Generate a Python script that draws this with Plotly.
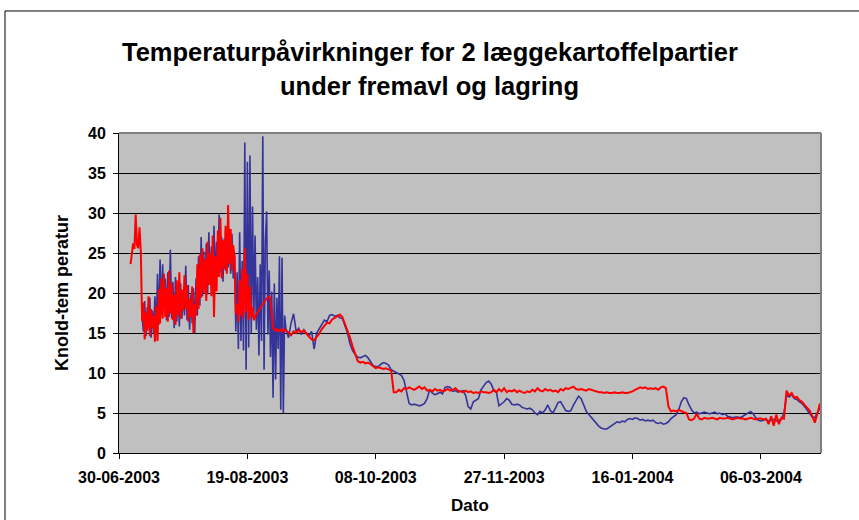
import pandas as pd
import plotly.graph_objects as go

# ---------------- data ----------------
# Field period: readings every 12 hours
red_field_start = "2003-07-04 12:00"
red_field = [23.6, 24.8, 26.2, 25.5, 29.8, 26.0, 25.6, 28.2, 25.2, 16.5,
             18.8, 14.2, 17.6, 15.3, 19.6, 14.6, 18.0, 15.6, 17.2, 13.9,
             18.4, 14.0, 20.5, 16.2, 21.8, 16.8, 22.4, 17.0, 20.6, 16.4,
             22.8, 17.4, 21.2, 16.6, 19.8, 16.0, 21.6, 17.2, 22.6, 16.8,
             20.4, 17.8, 22.2, 18.0, 21.0, 16.4, 19.2, 17.0, 20.8, 15.0,
             18.6, 17.2, 23.6, 18.0, 24.8, 19.4, 25.6, 20.0, 24.2, 19.0,
             26.4, 21.0, 25.0, 19.6, 27.2, 17.0, 24.6, 20.2, 27.8, 22.0,
             29.4, 21.8, 26.6, 23.0, 28.4, 22.4, 31.0, 23.6, 28.0, 22.8,
             26.0, 24.4, 17.4, 18.6, 16.4, 21.6, 17.2, 23.0, 16.8, 25.6,
             17.6, 22.4, 16.6, 20.8, 17.0, 18.2, 16.6, 17.0, 17.4, 17.6,
             17.8, 18.2, 18.4, 18.6, 18.9, 19.1, 19.3, 19.5, 19.6, 19.2,
             17.0, 15.6, 15.4, 15.3, 15.5, 15.2, 15.4, 15.3, 15.5, 15.2,
             15.4]

blue_field_start = "2003-07-09 00:00"
blue_field = [17.0, 15.2, 19.0, 14.6, 18.2, 15.8, 19.4, 14.4, 17.8, 15.0,
              19.6, 14.8, 22.4, 16.0, 24.2, 17.4, 23.6, 18.0, 21.8, 16.6,
              22.6, 17.0, 25.4, 16.8, 21.4, 15.6, 22.0, 16.4, 20.6, 15.8,
              21.2, 16.8, 20.4, 17.2, 23.4, 16.6, 21.0, 15.4, 19.8, 16.2,
              20.6, 15.0, 21.8, 17.2, 24.6, 18.4, 27.0, 19.6, 25.2, 20.4,
              26.2, 19.8, 27.6, 21.0, 25.8, 20.2, 28.4, 21.6, 26.4, 22.0,
              29.8, 22.6, 27.0, 21.4, 26.8, 22.8, 28.0, 23.2, 26.2, 22.4,
              27.4, 21.8, 25.0, 15.2, 22.6, 13.0, 27.6, 14.0, 24.0, 12.8,
              38.8, 10.4, 36.4, 13.2, 37.2, 15.0, 30.8, 16.6, 27.2, 15.4,
              22.0, 12.2, 23.6, 14.0, 39.6, 10.4, 26.4, 30.2, 14.8, 22.8,
              12.0, 20.2, 6.9, 21.2, 9.2, 19.4, 13.0, 24.6, 5.4, 24.4,
              5.0, 17.2]

# Storage period: daily readings
store_start = "2003-09-03"
red_store = [15.3, 15.1, 14.7, 15.2, 15.0, 15.4, 15.1, 15.3, 14.9, 14.6,
             14.2, 14.1, 14.5, 14.9, 15.5, 15.9, 16.3, 16.2, 16.7, 16.9,
             17.1, 17.3, 17.0, 16.2, 15.3, 14.4, 13.3, 12.4, 11.5, 11.3,
             11.4, 11.2, 11.3, 11.1, 10.8, 10.6, 10.7, 10.6, 10.5, 10.6,
             10.4, 10.3, 7.6, 7.6, 7.9, 7.7, 8.1, 8.0, 8.2, 8.0,
             7.9, 8.1, 8.3, 8.0, 8.2, 7.8, 7.9, 7.7, 8.0, 7.8,
             7.9, 7.7, 7.8, 8.0, 7.8, 7.9, 8.1, 7.8, 7.7, 7.6,
             7.8, 7.6, 7.7, 7.5, 7.6, 7.5, 7.7, 7.6, 7.6, 7.5,
             7.6, 7.9, 7.6, 8.0, 7.7, 8.1, 7.6, 7.8, 7.7, 7.9,
             7.6, 7.8, 7.6, 7.5, 7.7, 7.6, 7.9, 7.7, 8.1, 7.8,
             7.7, 8.0, 7.8, 7.9, 7.7, 7.8, 7.6, 8.0, 7.8, 8.1,
             8.0, 8.2, 8.3, 8.0, 7.9, 8.0, 7.9, 7.8, 8.0, 7.9,
             7.8, 7.7, 7.6, 7.6, 7.5, 7.6, 7.5, 7.5, 7.6, 7.5,
             7.5, 7.6, 7.5, 7.5, 7.6, 7.7, 7.9, 8.1, 8.2, 8.1,
             8.2, 8.0, 8.1, 8.0, 8.1, 7.9, 8.2, 8.3, 8.1, 5.8,
             5.2, 5.3, 5.2, 5.4, 5.2, 5.1, 5.0, 4.2, 4.1, 4.3,
             4.9, 4.3, 4.2, 4.4, 4.3, 4.3, 4.4, 4.3, 4.2, 4.4,
             4.3, 4.3, 4.4, 4.3, 4.2, 4.3, 4.4, 4.3, 4.3, 4.2,
             4.3, 4.4, 4.3, 4.2, 4.3, 4.3, 4.2, 4.3, 3.6, 4.6,
             3.4, 4.8, 3.6, 4.4, 4.3, 7.8, 7.2, 7.5, 6.9, 7.0,
             6.6, 6.4, 6.0, 5.7, 5.3, 4.6, 3.8, 4.9, 6.2]

blue_store = [15.6, 14.4, 16.2, 17.4, 15.2, 15.6, 14.8, 15.4, 15.0, 14.6,
              15.2, 13.0, 15.0, 15.6, 16.0, 16.6, 16.4, 17.2, 17.3, 17.1,
              17.2, 16.9, 16.8, 15.8, 15.0, 13.6, 12.8, 12.3, 12.0, 11.9,
              12.1, 12.2, 11.9, 11.4, 10.9, 10.8, 10.8, 11.1, 11.3, 11.2,
              11.0, 10.4, 10.2, 10.0, 9.8, 9.7, 9.1, 7.4, 6.2, 6.0,
              6.1, 6.0, 5.9, 6.0, 6.2, 6.8, 7.9, 7.5, 7.3, 7.4,
              7.6, 7.4, 8.2, 8.3, 8.2, 7.7, 7.8, 7.6, 7.7, 7.8,
              7.2, 5.8, 5.5, 6.4, 6.6, 6.8, 7.9, 8.3, 8.8, 9.0,
              8.6, 7.8, 7.6, 5.9, 6.1, 6.4, 6.8, 6.6, 6.1, 6.0,
              6.1, 6.0, 5.7, 5.6, 5.5, 5.6, 5.4, 5.0, 4.8, 5.2,
              5.0, 5.4, 6.0, 5.3, 5.0, 5.6, 6.3, 6.4, 5.8, 5.3,
              5.2, 5.3, 6.0, 6.6, 7.1, 6.8, 6.0, 5.2, 4.8, 4.4,
              4.0, 3.6, 3.3, 3.1, 3.0, 3.0, 3.2, 3.4, 3.7, 3.9,
              3.8, 4.0, 3.9, 4.2, 4.3, 4.2, 4.4, 4.3, 4.1, 4.2,
              4.0, 4.1, 4.0, 4.1, 3.8, 3.7, 3.8, 3.6, 3.7, 3.9,
              4.3, 4.6, 4.8, 5.4, 6.4, 6.9, 6.8, 6.0, 5.4, 5.0,
              5.1, 4.9, 5.0, 5.1, 5.0, 4.9, 5.0, 5.1, 4.9, 5.0,
              4.8, 4.9, 4.6, 4.5, 4.4, 4.5, 4.5, 4.4, 4.6, 4.8,
              5.0, 5.2, 4.9, 4.4, 4.1, 4.0, 4.1, 4.2, 4.0, 4.1,
              4.2, 4.0, 4.1, 4.2, 5.0, 7.2, 7.0, 7.3, 6.8, 6.7,
              6.4, 6.2, 5.8, 5.4, 5.0, 4.5, 4.4, 5.0, 5.6]

tick_dates = ["2003-06-30", "2003-08-19", "2003-10-08",
              "2003-11-27", "2004-01-16", "2004-03-06"]
tick_labels = ["30-06-2003", "19-08-2003", "08-10-2003",
               "27-11-2003", "16-01-2004", "06-03-2004"]

title_lines = ["Temperaturpåvirkninger for 2 læggekartoffelpartier",
               "under fremavl og lagring"]
x_title = "Dato"
y_title = "Knold-tem peratur"

# ---------------- build series ----------------
def series(field_start, field_vals, store_vals):
    t1 = pd.date_range(field_start, periods=len(field_vals), freq="12h")
    t2 = pd.date_range(store_start, periods=len(store_vals), freq="D")
    return list(t1) + list(t2), list(field_vals) + list(store_vals)

bx, by = series(blue_field_start, blue_field, blue_store)
rx, ry = series(red_field_start, red_field, red_store)

FONT = "Liberation Sans, Arial, sans-serif"

fig = go.Figure()
fig.add_trace(go.Scatter(x=bx, y=by, mode="lines",
                         line=dict(color="#333399", width=1.6)))
fig.add_trace(go.Scatter(x=rx, y=ry, mode="lines",
                         line=dict(color="#FF0000", width=2)))

fig.update_layout(
    width=859, height=520,
    margin=dict(l=119, r=38, t=133, b=67),
    paper_bgcolor="white",
    plot_bgcolor="#C0C0C0",
    showlegend=False,
    font=dict(family=FONT, color="black"),
)
fig.update_xaxes(
    type="date",
    range=["2003-06-30", "2004-03-29 10:00"],
    tickvals=tick_dates, ticktext=tick_labels,
    ticks="outside", ticklen=5, tickcolor="black", tickwidth=1,
    showgrid=False, zeroline=False,
    showline=True, linecolor="black", linewidth=1,
    tickfont=dict(family=FONT, size=16, weight="bold", color="black"),
    ticklabelstandoff=5,
)
fig.update_yaxes(
    range=[0, 40], tick0=0, dtick=5,
    ticks="outside", ticklen=5, tickcolor="black", tickwidth=1,
    showgrid=True, gridcolor="black", gridwidth=1,
    zeroline=False,
    showline=True, linecolor="black", linewidth=1,
    tickfont=dict(family=FONT, size=16, weight="bold", color="black"),
    ticklabelstandoff=4,
)

# plot-area frame (top / right in grey)
fig.add_shape(type="line", xref="paper", yref="paper", x0=0, x1=1, y0=1, y1=1,
              line=dict(color="#808080", width=2), layer="above")
fig.add_shape(type="line", xref="paper", yref="paper", x0=1, x1=1, y0=0, y1=1,
              line=dict(color="#808080", width=2), layer="above")
# outer chart frame (top and left)
fig.add_shape(type="line", xref="paper", yref="paper",
              x0=-0.1624, x1=1.1, y0=1.3813, y1=1.3813,
              line=dict(color="black", width=1), layer="above")
fig.add_shape(type="line", xref="paper", yref="paper",
              x0=-0.1624, x1=-0.1624, y0=-0.3, y1=1.3813,
              line=dict(color="black", width=1), layer="above")

# titles
tx = (429.5 - 119) / 702
fig.add_annotation(text=title_lines[0], xref="paper", yref="paper",
                   x=tx, y=(453 - 52) / 320, xanchor="center", yanchor="middle",
                   showarrow=False,
                   font=dict(family=FONT, size=25.5, weight="bold", color="black"))
fig.add_annotation(text=title_lines[1], xref="paper", yref="paper",
                   x=tx, y=(453 - 86) / 320, xanchor="center", yanchor="middle",
                   showarrow=False,
                   font=dict(family=FONT, size=25.5, weight="bold", color="black"))
fig.add_annotation(text=x_title, xref="paper", yref="paper",
                   x=0.5, y=(453 - 505) / 320, xanchor="center", yanchor="middle",
                   showarrow=False,
                   font=dict(family=FONT, size=17, weight="bold", color="black"))
fig.add_annotation(text=y_title, xref="paper", yref="paper",
                   x=(62 - 119) / 702, y=0.5, xanchor="center", yanchor="middle",
                   textangle=-90, showarrow=False,
                   font=dict(family=FONT, size=18, weight="bold", color="black"))

fig.write_html("out.html",
               config={"displayModeBar": False},
               post_script="document.body.style.margin='0px';")
